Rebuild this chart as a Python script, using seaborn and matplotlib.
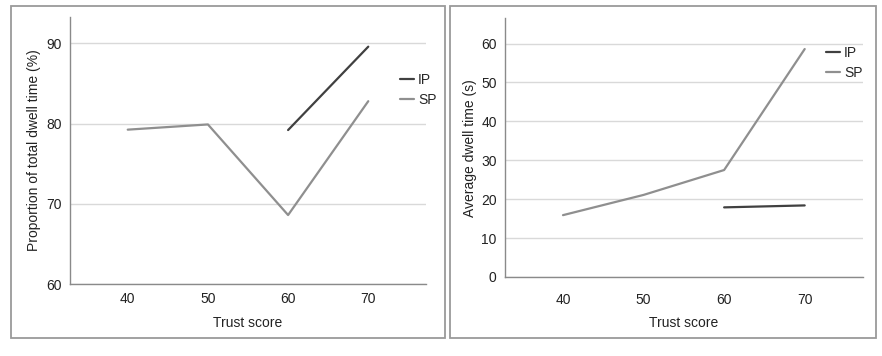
import numpy as np
import pandas as pd
import seaborn as sns
import matplotlib.pyplot as plt
from matplotlib.patches import Rectangle

sns.set_style("white")
plt.rcParams['font.family'] = ['Liberation Sans', 'DejaVu Sans']

trust = [40, 50, 60, 70]
groups = ["IP", "SP"]
prop_ip = [np.nan, np.nan, 79.2, 89.6]
prop_sp = [79.25, 79.9, 68.6, 82.8]
dwell_ip = [np.nan, np.nan, 17.9, 18.4]
dwell_sp = [15.9, 21.1, 27.5, 58.6]

colors = {"IP": "#404040", "SP": "#8f8f8f"}

W, H = 882, 356
fig = plt.figure(figsize=(W / 100, H / 100), dpi=100)

# grey frames around each panel
for x0, x1 in [(11, 445), (450, 876)]:
    fig.patches.append(Rectangle((x0 / W, (H - 338) / H), (x1 - x0) / W, 332 / H,
                                 transform=fig.transFigure, fill=False,
                                 edgecolor="#9a9a9a", linewidth=1.3))


def make_df(ip, sp):
    return pd.DataFrame({
        "trust": trust * 2,
        "value": list(ip) + list(sp),
        "group": ["IP"] * len(trust) + ["SP"] * len(trust),
    })


def style(ax, ylim, yticks, ylabel, leg_xy, xpad, xlabpad, ylabpad):
    ax.set_xlim(32.8, 77.2)
    ax.set_ylim(*ylim)
    ax.set_xticks(trust)
    ax.set_yticks(yticks)
    ax.yaxis.grid(True, color="#d9d9d9", linewidth=1)
    ax.xaxis.grid(False)
    ax.set_axisbelow(True)
    for s in ["top", "right"]:
        ax.spines[s].set_visible(False)
    for s in ["left", "bottom"]:
        ax.spines[s].set_color("#8a8a8a")
        ax.spines[s].set_linewidth(1)
    ax.tick_params(length=0, labelsize=10, colors="#222222", pad=6)
    ax.tick_params(axis="x", pad=xpad)
    ax.set_xlabel("Trust score", fontsize=10, color="#222222", labelpad=xlabpad)
    ax.set_ylabel(ylabel, fontsize=10, color="#222222", labelpad=ylabpad)
    ax.legend(loc="upper left", bbox_to_anchor=leg_xy, frameon=False,
              fontsize=10, handlelength=1.0, handletextpad=0.3,
              labelspacing=0.45, borderpad=0, borderaxespad=0)


ax1 = fig.add_axes([70 / W, (H - 284) / H, 356 / W, 267 / H])
sns.lineplot(data=make_df(prop_ip, prop_sp), x="trust", y="value", hue="group",
             hue_order=groups, palette=colors, linewidth=1.6, ax=ax1)
style(ax1, (60, 93.3), [60, 70, 80, 90], "Proportion of total dwell time (%)",
      (0.927, 0.79), 6, 7.3, 4)

ax2 = fig.add_axes([505 / W, (H - 277) / H, 357.7 / W, 258.7 / H])
sns.lineplot(data=make_df(dwell_ip, dwell_sp), x="trust", y="value", hue="group",
             hue_order=groups, palette=colors, linewidth=1.6, ax=ax2)
style(ax2, (0, 66.5), [0, 10, 20, 30, 40, 50, 60], "Average dwell time (s)",
      (0.897, 0.893), 11.2, 6.5, 3)

fig.savefig("out.png", dpi=100)
